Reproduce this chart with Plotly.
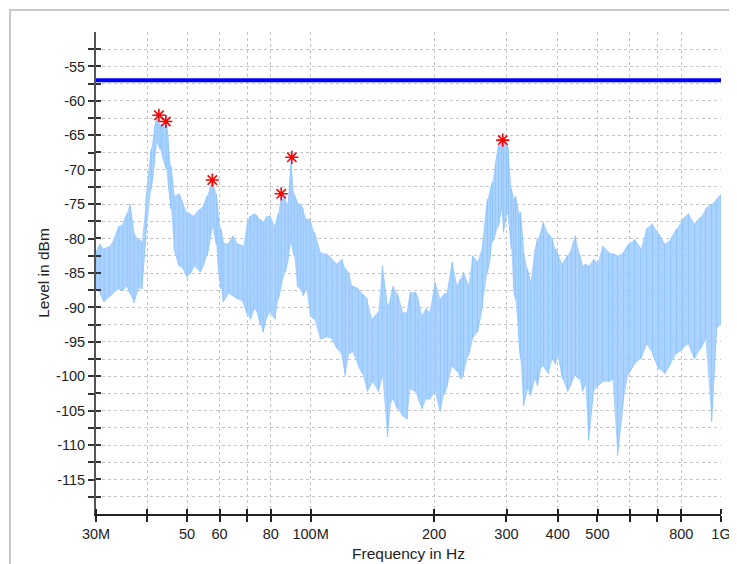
import plotly.graph_objects as go

# ---- data ----
freq_mhz = [30.0, 30.7, 31.4, 32.3, 33.2, 34.1, 34.9, 35.7, 36.3, 37.1, 38.0, 38.8, 39.7, 40.9, 41.6,
            42.3, 43.0, 43.5, 44.5, 45.0, 45.7, 46.5, 47.8, 48.9, 50.0, 50.9, 52.0, 53.8, 55.0, 56.0,
            56.9, 57.9, 58.9, 59.5, 60.5, 61.2, 63.0, 64.8, 66.6, 68.5, 70.0, 71.3, 72.8, 74.1, 75.4,
            76.6, 77.9, 79.7, 82.0, 83.4, 84.8, 86.7, 88.2, 89.7, 91.2, 92.8, 94.3, 95.9, 97.6, 99.8,
            102.1, 105.5, 109.2, 112.9, 116.1, 119.4, 121.5, 124.2, 126.3, 130.7, 133.7, 137.4, 141.3, 146.2, 149.5,
            153.8, 156.4, 159.0, 162.7, 167.3, 172.0, 175.0, 180.0, 183.0, 187.1, 191.4, 195.7, 201.3, 207.1, 211.8,
            215.4, 221.5, 227.9, 231.7, 235.6, 242.4, 247.9, 255.0, 262.3, 269.7, 274.2, 277.4, 282.0, 286.8, 291.7,
            295.0, 300.0, 303.4, 308.5, 312.0, 315.6, 320.9, 324.6, 330.0, 337.5, 343.3, 351.0, 357.0, 363.0, 369.3,
            379.7, 388.5, 395.0, 401.8, 411.0, 422.6, 432.0, 441.9, 452.0, 459.5, 467.0, 475.5, 489.0, 500.0, 514.4,
            532.2, 544.0, 559.6, 578.8, 595.5, 615.6, 636.9, 658.0, 681.0, 704.7, 728.6, 753.6, 779.0, 806.0, 834.0,
            862.0, 892.0, 917.0, 948.7, 975.6, 1000.0]

upper_dbm = [-82.0, -80.8, -81.5, -81.2, -80.1, -78.2, -77.9, -76.4, -75.0, -79.1, -80.1, -80.5, -74.3, -67.0, -64.1,
             -62.0, -63.4, -63.7, -63.1, -65.6, -69.5, -73.8, -73.5, -75.0, -76.2, -76.4, -76.7, -75.7, -75.0, -73.8,
             -72.5, -71.7, -73.5, -76.2, -78.6, -80.5, -80.8, -79.6, -80.8, -81.1, -77.9, -76.7, -76.4, -76.7, -77.2,
             -77.6, -76.9, -76.7, -78.2, -76.4, -73.6, -74.3, -75.0, -68.5, -73.6, -74.7, -75.0, -75.7, -77.2, -77.2,
             -79.1, -82.0, -82.2, -83.0, -83.7, -83.0, -84.4, -85.1, -86.9, -87.3, -88.0, -88.8, -91.7, -90.7, -84.0,
             -89.8, -88.8, -86.9, -88.0, -90.7, -90.7, -87.8, -87.8, -88.8, -91.2, -90.2, -90.7, -86.3, -88.8, -88.0,
             -87.8, -83.4, -86.9, -85.9, -84.9, -86.9, -82.5, -83.4, -81.1, -74.3, -72.8, -71.8, -69.2, -66.6, -65.9,
             -65.6, -66.0, -67.0, -72.8, -74.3, -73.8, -76.2, -76.2, -81.5, -84.4, -86.3, -82.2, -80.1, -79.3, -77.6,
             -79.3, -80.1, -81.5, -82.5, -83.7, -82.5, -81.5, -79.6, -82.2, -84.0, -83.7, -84.0, -83.0, -83.7, -81.1,
             -82.0, -82.2, -82.5, -82.0, -80.8, -80.1, -81.5, -78.6, -77.9, -79.3, -80.8, -80.1, -78.6, -77.2, -76.4,
             -77.9, -76.9, -75.7, -75.0, -74.3, -73.6]

lower_dbm = [-87.3, -88.0, -89.2, -88.5, -87.8, -87.3, -87.6, -86.9, -88.0, -89.3, -87.3, -87.3, -79.6, -72.8, -69.2,
             -66.0, -67.0, -68.0, -69.9, -72.1, -75.7, -81.5, -84.0, -84.4, -85.6, -85.1, -84.0, -84.9, -83.7, -82.5,
             -80.1, -78.2, -80.8, -84.0, -87.3, -89.2, -88.0, -88.3, -88.8, -89.2, -90.9, -91.7, -90.2, -90.7, -92.4,
             -93.6, -91.7, -90.7, -91.7, -88.8, -86.9, -84.9, -83.0, -80.5, -82.5, -86.9, -87.3, -88.3, -87.3, -91.2,
             -91.7, -94.6, -94.3, -94.6, -96.0, -97.0, -99.9, -96.7, -96.4, -98.5, -99.6, -102.2, -100.8, -102.2, -99.9,
             -108.8, -104.0, -103.3, -104.7, -105.7, -106.2, -101.8, -102.2, -103.3, -104.7, -103.3, -103.3, -102.2, -105.1, -102.5,
             -101.4, -98.5, -99.3, -100.4, -99.9, -97.0, -94.6, -93.6, -89.8, -84.9, -82.5, -80.5, -79.3, -78.2, -75.7,
             -79.1, -76.4, -76.7, -81.5, -86.9, -88.8, -93.6, -97.5, -104.3, -101.8, -102.8, -100.4, -101.4, -98.9, -98.5,
             -99.6, -97.5, -98.2, -97.0, -100.4, -102.2, -101.1, -99.9, -100.4, -102.2, -101.1, -109.3, -102.2, -101.4, -100.8,
             -100.8, -100.4, -111.5, -103.3, -99.6, -98.2, -97.5, -95.3, -96.7, -98.9, -99.6, -98.2, -96.7, -96.0, -95.3,
             -97.5, -96.0, -94.6, -106.6, -93.1, -92.4]

peak_freq_mhz = [42.7, 44.4, 57.6, 84.8, 90.0, 293.9]
peak_level_dbm = [-62.1, -63.0, -71.5, -73.5, -68.2, -65.7]

limit_freq_mhz = [30.0, 1000.0]
limit_level_dbm = [-57.0, -57.0]

x_tick_mhz = [30, 40, 50, 60, 70, 80, 100, 200, 300, 400, 500, 600, 700, 800, 1000]
x_tick_text = ["30M", "", "50", "60", "", "80", "100M", "200", "300", "400", "500", "", "", "800", "1G"]

y_tick_vals = [-117.5 + 2.5 * i for i in range(27)]
y_tick_text = [("%d" % v) if float(v).is_integer() and int(v) % 5 == 0 else "" for v in y_tick_vals]

# ---- figure ----
hz = lambda arr: [v * 1e6 for v in arr]
fig = go.Figure()

# envelope band
fig.add_trace(go.Scatter(
    x=hz(freq_mhz) + hz(freq_mhz)[::-1],
    y=upper_dbm + lower_dbm[::-1],
    fill="toself", fillcolor="rgba(160,205,255,0.88)",
    line=dict(width=0), mode="lines", hoverinfo="skip", showlegend=False))

# spectrum texture: vertical strokes between lower and upper reads
sx, sy = [], []
for i, f in enumerate(freq_mhz):
    if i % 2 == 0:
        sx += [f * 1e6, f * 1e6]
        sy += [lower_dbm[i], upper_dbm[i]]
    else:
        sx += [f * 1e6, f * 1e6]
        sy += [upper_dbm[i], lower_dbm[i]]
fig.add_trace(go.Scatter(x=sx, y=sy, mode="lines",
                         line=dict(color="rgba(140,196,255,0.9)", width=1),
                         hoverinfo="skip", showlegend=False))

# limit line
fig.add_trace(go.Scatter(x=hz(limit_freq_mhz), y=limit_level_dbm, mode="lines",
                         line=dict(color="#0000ff", width=4), showlegend=False))

# peaks
fig.add_trace(go.Scatter(x=hz(peak_freq_mhz), y=peak_level_dbm, mode="markers",
                         marker=dict(symbol="asterisk-open", size=11, color="#ff0000",
                                     line=dict(color="#ff0000", width=1.6)),
                         showlegend=False))

font = dict(family="Liberation Sans, Arial, sans-serif", size=14.5, color="#222222")
grid_dash = "3px,3px"

# inside tick marks (slightly offset so plotly keeps them) to make ticks cross the axis line
x_inner_ticks = [v * 1.0005e6 for v in x_tick_mhz[:-1]] + [x_tick_mhz[-1] * 0.9995e6]
y_inner_ticks = [v + 0.02 for v in y_tick_vals]

# the page body has an 8px margin, so the figure is offset by 8px
fig.update_layout(
    width=729, height=556,
    margin=dict(l=88, r=16, t=24, b=50, autoexpand=False),
    paper_bgcolor="white", plot_bgcolor="white",
    font=font,
    xaxis=dict(type="log", range=[7.4771, 9.0], automargin=False,
               tickvals=hz(x_tick_mhz), ticktext=x_tick_text,
               showgrid=True, gridcolor="#c4c4c4", griddash=grid_dash, gridwidth=1,
               showline=True, linecolor="#222222", linewidth=1.5,
               ticks="outside", ticklen=6, tickcolor="#222222", tickwidth=1.5,
               minor=dict(tickmode="array", tickvals=x_inner_ticks, ticks="inside",
                          ticklen=5, tickcolor="#222222", tickwidth=1.5, showgrid=False),
               zeroline=False,
               title=dict(text="Frequency in Hz", font=dict(size=15.5), standoff=7)),
    yaxis=dict(range=[-120, -50], automargin=False,
               tickvals=y_tick_vals, ticktext=y_tick_text,
               showgrid=True, gridcolor="#c4c4c4", griddash=grid_dash, gridwidth=1,
               showline=True, linecolor="#555555", linewidth=2,
               ticks="outside", ticklen=6, tickcolor="#333333", tickwidth=1.5,
               minor=dict(tickmode="array", tickvals=y_inner_ticks, ticks="inside",
                          ticklen=5, tickcolor="#333333", tickwidth=1.5, showgrid=False),
               zeroline=False,
               title=dict(text="Level in dBm", font=dict(size=15.5), standoff=3)),
    shapes=[dict(type="rect", xref="paper", yref="paper",
                 x0=-0.1376, x1=1.05, y0=-0.13, y1=1.0456,
                 line=dict(color="#c8c8c8", width=2), fillcolor="rgba(0,0,0,0)", layer="below")],
)

fig.write_html("out.html")
